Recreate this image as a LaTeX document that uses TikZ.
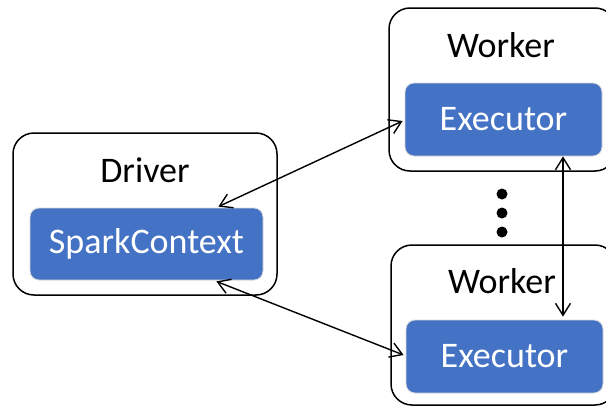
\documentclass[tikz,border=0pt]{standalone}
\usepackage{fontspec}
\setmainfont{Carlito}
\usetikzlibrary{arrows.meta,calc}
\definecolor{boxblue}{HTML}{4472C4}
\definecolor{rimgray}{HTML}{DADADA}
\begin{document}
\begin{tikzpicture}[x=1pt,y=-1pt,
  outerbox/.style={draw=black,line width=1.5pt,rounded corners=21pt,fill=white,inner sep=0pt},
  innerbox/.style={draw=rimgray,line width=0.8pt,fill=boxblue,rounded corners=9pt,text=white,inner sep=0pt,font=\fontsize{36}{43}\selectfont},
  title/.style={inner sep=0pt,font=\fontsize{36}{43}\selectfont},
  link/.style={line width=1.4pt,{Straight Barb[length=12pt,width=15pt]}-{Straight Barb[length=12pt,width=15pt]}},
  dot/.style={circle,fill=black,inner sep=0pt,minimum size=11pt}]
\useasboundingbox (0,0) rectangle (606,407);
\clip (0,0) rectangle (606,407);
% driver with its context
\node[outerbox,minimum width=264pt,minimum height=162pt] (driver) at (145,214) {};
\node[title,anchor=base] (drivertxt) at (145,182) {Driver};
\node[innerbox,minimum width=233pt,minimum height=72pt] (sc) at (146.5,244) {SparkContext};
% first worker
\node[outerbox,minimum width=227pt,minimum height=163pt] (w1) at (502.5,89.5) {};
\node[title,anchor=base] (w1txt) at (501,57) {Worker};
\node[innerbox,minimum width=197pt,minimum height=73pt] (ex1) at (503.5,119.5) {Executor};
% second worker
\node[outerbox,minimum width=225pt,minimum height=160pt] (w2) at (503.5,325) {};
\node[title,anchor=base] (w2txt) at (502,293) {Worker};
\node[innerbox,minimum width=197pt,minimum height=73pt] (ex2) at (504.5,356.5) {Executor};
% more workers in between
\node[dot] (d1) at (502,194) {};
\node[dot] (d2) at (502,213) {};
\node[dot] (d3) at (502,232) {};
% links
\draw[link] ($(sc.north east)+(-45,-1)$) -- ($(ex1.west)+(-2,1.5)$);
\draw[link] ($(sc.south east)+(-47,1)$) -- ($(ex2.west)+(-2,-1.5)$);
\draw[link] ($(ex1.south)+(59.5,0)$) -- ($(ex2.north)+(58.5,-3)$);
\end{tikzpicture}
\end{document}
